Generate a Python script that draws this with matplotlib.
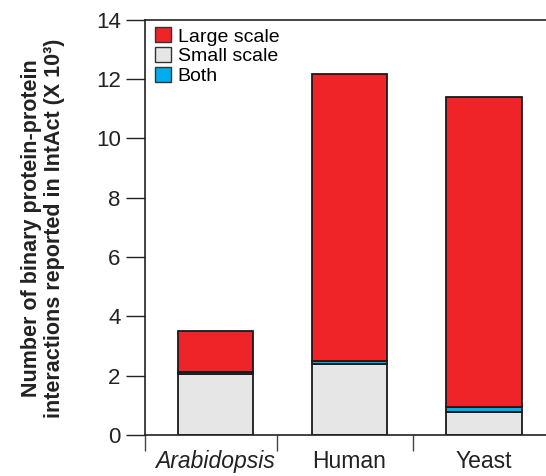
import matplotlib
matplotlib.use("Agg")
import matplotlib.pyplot as plt
from matplotlib.patches import Patch
import numpy as np

plt.rcParams['font.family'] = ['Liberation Sans', 'DejaVu Sans']

categories = ["Arabidopsis", "Human", "Yeast"]
small_scale = [2.05, 2.38, 0.77]
both = [0.06, 0.10, 0.16]
large_scale = [1.41, 9.67, 10.45]
yticks = [0, 2, 4, 6, 8, 10, 12, 14]

RED = "#EE2428"
GREY = "#E6E6E6"
BLUE = "#00AEEF"
INK = "#222222"

fig = plt.figure(figsize=(5.46, 4.76), dpi=100)
ax = fig.add_axes([145 / 546, 41 / 476, 1 - 145 / 546, 415.5 / 476])

x = np.arange(len(categories))
w = 0.565
small = np.array(small_scale)
bth = np.array(both)
large = np.array(large_scale)
kw = dict(width=w, edgecolor="#1a1a1a", linewidth=1.3)
ax.bar(x, small, color=GREY, **kw)
ax.bar(x, bth, bottom=small, color=BLUE, **kw)
ax.bar(x, large, bottom=small + bth, color=RED, **kw)

xl = -0.525
ax.set_xlim(xl, 2.465)
ax.set_ylim(0, 14)

ax.spines['right'].set_visible(False)
for s in ['left', 'top', 'bottom']:
    ax.spines[s].set_linewidth(1.2)
    ax.spines[s].set_color(INK)

ax.set_yticks(yticks)
ax.set_yticklabels([str(t) for t in yticks], fontsize=16, color=INK)
ax.tick_params(axis='y', direction='out', length=14, width=1.0, pad=3.5, colors=INK)

ax.set_xticks(x)
ax.set_xticklabels(categories, fontsize=16.5, color=INK)
ax.get_xticklabels()[0].set_style('italic')
ax.tick_params(axis='x', which='major', length=0, pad=11)
ax.set_xticks([xl, 0.46, 1.47], minor=True)
ax.tick_params(axis='x', which='minor', direction='out', length=11.5, width=1.0, colors="#444444")

fig.text(43 / 546, 1 - 228 / 476,
         "Number of binary protein-protein\ninteractions reported in IntAct (X 10³)",
         rotation=90, ha='center', va='center', fontsize=15.5, fontweight='bold',
         color=INK, linespacing=1.17)

handles = [Patch(facecolor=RED, edgecolor="#333333", label="Large scale"),
           Patch(facecolor=GREY, edgecolor="#333333", label="Small scale"),
           Patch(facecolor=BLUE, edgecolor="#333333", label="Both")]
ax.legend(handles=handles, loc='upper left', frameon=False, fontsize=14,
          handlelength=0.82, handleheight=0.82, handletextpad=0.35,
          labelspacing=0.08, borderaxespad=0.0, borderpad=0.4,
          bbox_to_anchor=(0.005, 1.0))

fig.savefig("out.png", dpi=100)
